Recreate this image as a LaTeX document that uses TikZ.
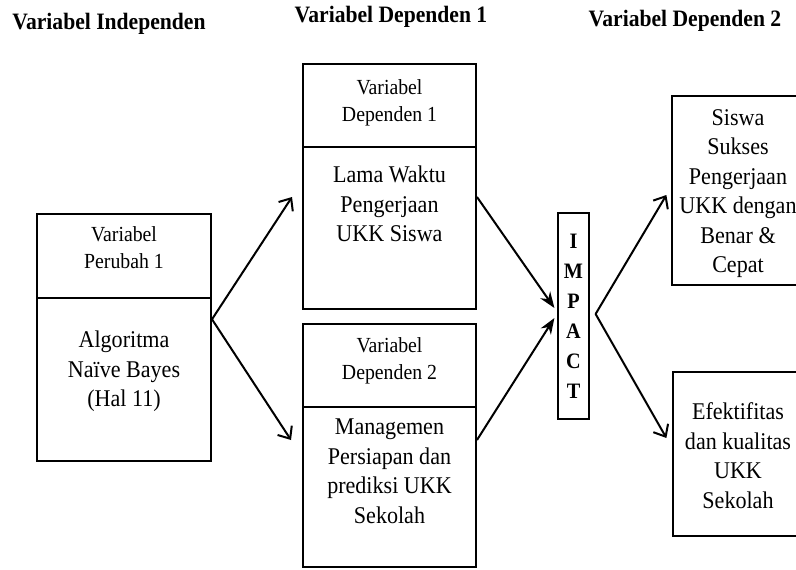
\documentclass[tikz,border=0pt]{standalone}
\usepackage{fontspec}
\setmainfont{Liberation Serif}[FakeStretch=0.92]
\usetikzlibrary{positioning, calc, arrows.meta}

\begin{document}
\begin{tikzpicture}[x=1pt, y=-1pt,
  sect/.style={draw, line width=2pt, minimum width=174pt},
  thinbox/.style={draw, line width=1.2pt},
  lbl/.style={inner sep=0pt, align=center, font=\fontsize{21.5}{27}\selectfont},
  body/.style={inner sep=0pt, align=center, font=\fontsize{24}{29.5}\selectfont},
  heading/.style={anchor=base, inner sep=0pt, font=\fontsize{23.5}{28}\selectfont\bfseries},
  spread/.style={line width=2pt, -{Straight Barb[length=10pt, width=17pt]}},
  merge/.style={line width=2pt, -{Stealth[length=16pt, width=12pt]}}]
  \useasboundingbox (0,0) rectangle (796,570);

  % Headings
  \node[heading] (hInd) at (109,30) {Variabel Independen};
  \node[heading] (hDep1) at (391,23) {Variabel Dependen 1};
  \node[heading] (hDep2) at (685,27) {Variabel Dependen 2};

  % Independent variable
  \node[sect, minimum height=84pt] (indTop) at (124,256) {};
  \node[sect, minimum height=163pt] (indBot) at (124,379.5) {};
  \node[lbl, below=13pt of indTop.north] (indTopTxt) {Variabel\\Perubah 1};
  \node[body, below=34pt of indBot.north] (indBotTxt) {Algoritma\\Naïve Bayes\\(Hal 11)};

  % Dependent variable 1
  \node[sect, minimum width=173pt, minimum height=83pt] (dep1Top) at (389.5,105.5) {};
  \node[sect, minimum width=173pt, minimum height=162pt] (dep1Bot) at (389.5,228) {};
  \node[lbl, below=16pt of dep1Top.north] (dep1TopTxt) {Variabel\\Dependen 1};
  \node[body, below=20pt of dep1Bot.north] (dep1BotTxt) {Lama Waktu\\Pengerjaan\\UKK Siswa};

  % Dependent variable 2
  \node[sect, minimum width=173pt, minimum height=83pt] (dep2Top) at (389.5,365.5) {};
  \node[sect, minimum width=173pt, minimum height=160pt] (dep2Bot) at (389.5,487) {};
  \node[lbl, below=14pt of dep2Top.north] (dep2TopTxt) {Variabel\\Dependen 2};
  \node[body, below=13pt of dep2Bot.north] (dep2BotTxt) {Managemen\\Persiapan dan\\prediksi UKK\\Sekolah};

  % Impact
  \node[thinbox, minimum width=31pt, minimum height=206pt, align=center, inner sep=0pt,
    font=\fontsize{22}{30}\selectfont\bfseries] (impact) at (573.5,316) {I\\M\\P\\A\\C\\T};

  % Results
  \node[thinbox, minimum width=132pt, minimum height=189pt] (res1) at (738,190.5) {};
  \node[body, below=14pt of res1.north] (res1Txt) {Siswa\\Sukses\\Pengerjaan\\UKK dengan\\Benar \&\\Cepat};
  \node[thinbox, minimum width=130pt, minimum height=164pt] (res2) at (738,454) {};
  \node[body, below=31pt of res2.north] (res2Txt) {Efektifitas\\dan kualitas\\UKK\\Sekolah};

  % Arrows
  \coordinate (fork) at ($(indBot.north east)!0.135!(indBot.south east)$);
  \coordinate (burst) at ($(impact.east)+(6,-2)$);
  \draw[spread] (fork) -- ($(dep1Bot.west)+(-10,-31)$);
  \draw[spread] (fork) -- ($(dep2Bot.west)+(-11,-47)$);
  \draw[merge] ($(dep1Bot.east)+(0,-31)$) -- ($(impact.west)+(-3,-8)$);
  \draw[merge] ($(dep2Bot.east)+(0,-47)$) -- ($(impact.west)+(-3,2)$);
  \draw[spread] (burst) -- ($(res1.west)+(-5,4.5)$);
  \draw[spread] (burst) -- ($(res2.west)+(-6,-16)$);
\end{tikzpicture}
\end{document}
